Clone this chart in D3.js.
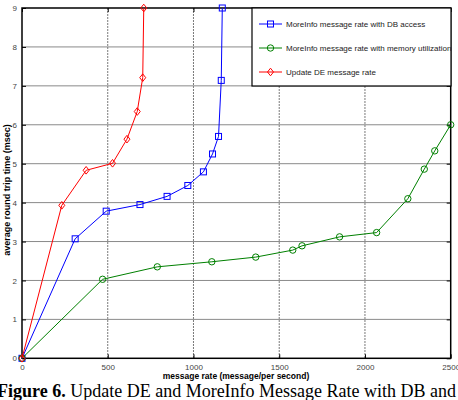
<!DOCTYPE html>
<html><head><meta charset="utf-8">
<script src="https://cdn.jsdelivr.net/npm/d3@7"></script>
<style>body{margin:0;background:#fff;overflow:hidden}svg{display:block}</style>
</head><body>
<svg id="c" width="458" height="400"></svg>
<script>
const xTicks = [0, 500, 1000, 1500, 2000, 2500];
const yTicks = [0, 1, 2, 3, 4, 5, 6, 7, 8, 9];
const seriesNames = ["MoreInfo message rate with DB access", "MoreInfo message rate with memory utilization", "Update DE message rate"];
const dbX = [0, 310, 491, 688, 846, 967, 1058, 1111, 1146, 1162, 1168];
const dbY = [0, 3.07, 3.78, 3.95, 4.16, 4.44, 4.79, 5.25, 5.70, 7.14, 9.0];
const memX = [0, 470, 789, 1107, 1363, 1579, 1633, 1852, 2068, 2250, 2346, 2407, 2500];
const memY = [0, 2.03, 2.35, 2.48, 2.60, 2.78, 2.89, 3.12, 3.23, 4.10, 4.86, 5.33, 6.0];
const deX = [0, 232, 374, 528, 612, 672, 704, 710];
const deY = [0, 3.93, 4.83, 5.01, 5.63, 6.34, 7.21, 9.0];
const colors = ["#0000ff", "#008000", "#ff0000"];
const markers = ["square", "circle", "diamond"];

const svg = d3.select("#c");
const L = 22, R = 450.7, T = 8, B = 358.3;
const x = d3.scaleLinear().domain([0, 2500]).range([L, R]);
const y = d3.scaleLinear().domain([0, 9]).range([B, T]);

// grid
svg.append("g").selectAll("line.h").data(yTicks.slice(1, -1)).join("line")
  .attr("x1", L).attr("x2", R).attr("y1", d => y(d)).attr("y2", d => y(d))
  .attr("stroke", "#8a8a8a").attr("stroke-width", 1);
svg.append("g").selectAll("line.v").data(xTicks.slice(1, -1)).join("line")
  .attr("x1", d => x(d)).attr("x2", d => x(d)).attr("y1", T).attr("y2", B)
  .attr("stroke", "#7a7a7a").attr("stroke-width", 1).attr("stroke-dasharray", "2,1");

// axes
const font = "Arial, 'Liberation Sans', sans-serif";
const xAxis = d3.axisBottom(x).tickValues(xTicks).tickSize(-4).tickPadding(6).tickFormat(d3.format("d"));
const gx = svg.append("g").attr("transform", `translate(0,${B})`).call(xAxis);
const yAxis = d3.axisLeft(y).tickValues(yTicks).tickSize(-4).tickPadding(5).tickFormat(d3.format("d"));
const gy = svg.append("g").attr("transform", `translate(${L},0)`).call(yAxis);
// top/right mirror ticks
svg.append("g").attr("transform", `translate(0,${T})`).call(d3.axisTop(x).tickValues(xTicks).tickSize(-4).tickFormat(""));
svg.append("g").attr("transform", `translate(${R},0)`).call(d3.axisRight(y).tickValues(yTicks).tickSize(-4).tickFormat(""));
svg.selectAll(".domain").remove();
svg.selectAll(".tick line").attr("stroke", "#000");
[gx, gy].forEach(g => g.selectAll("text").attr("font-family", font).attr("font-size", 8).attr("fill", "#444"));

// frame
svg.append("rect").attr("x", L).attr("y", T).attr("width", R - L).attr("height", B - T)
  .attr("fill", "none").attr("stroke", "#000").attr("stroke-width", 1.5);

// series
const line = d3.line().x(d => x(d[0])).y(d => y(d[1]));
const data = [d3.zip(dbX, dbY), d3.zip(memX, memY), d3.zip(deX, deY)];
function drawMarker(g, type, cx, cy, col) {
  if (type === "square") g.append("rect").attr("x", cx - 3).attr("y", cy - 3).attr("width", 6).attr("height", 6).attr("fill", "none").attr("stroke", col);
  else if (type === "circle") g.append("circle").attr("cx", cx).attr("cy", cy).attr("r", 3.2).attr("fill", "none").attr("stroke", col);
  else g.append("path").attr("d", `M${cx},${cy - 3.8}L${cx + 3},${cy}L${cx},${cy + 3.8}L${cx - 3},${cy}Z`).attr("fill", "none").attr("stroke", col);
}
data.forEach((pts, i) => {
  const g = svg.append("g");
  g.append("path").datum(pts).attr("d", line).attr("fill", "none").attr("stroke", colors[i]).attr("stroke-width", 1);
  pts.forEach(p => drawMarker(g, markers[i], x(p[0]), y(p[1]), colors[i]));
});

// legend
const lg = svg.append("g");
lg.append("rect").attr("x", 252).attr("y", 8).attr("width", 199).attr("height", 78).attr("fill", "#fff").attr("stroke", "#000").attr("stroke-width", 1.2);
seriesNames.forEach((n, i) => {
  const yy = 24 + i * 24;
  lg.append("line").attr("x1", 259).attr("x2", 282).attr("y1", yy).attr("y2", yy).attr("stroke", colors[i]);
  drawMarker(lg, markers[i], 270.5, yy, colors[i]);
  lg.append("text").attr("x", 286).attr("y", yy + 3).attr("font-family", font).attr("font-size", 8).attr("fill", "#222").text(n);
});

// titles
svg.append("text").attr("x", 236).attr("y", 379).attr("text-anchor", "middle").attr("font-family", font).attr("font-size", 8.5).attr("font-weight", "bold").text("message rate (message/per second)");
svg.append("text").attr("transform", `translate(10,${190}) rotate(-90)`).attr("text-anchor", "middle").attr("font-family", font).attr("font-size", 9).attr("font-weight", "bold").text("average round trip time (msec)");

// caption
const cap = svg.append("text").attr("x", -3).attr("y", 397).attr("font-family", "'Liberation Serif', 'Times New Roman', serif").attr("font-size", 18);
cap.append("tspan").attr("font-weight", "bold").text("Figure 6.");
cap.append("tspan").text(" Update DE and MoreInfo Message Rate with DB and");
</script>
</body></html>
